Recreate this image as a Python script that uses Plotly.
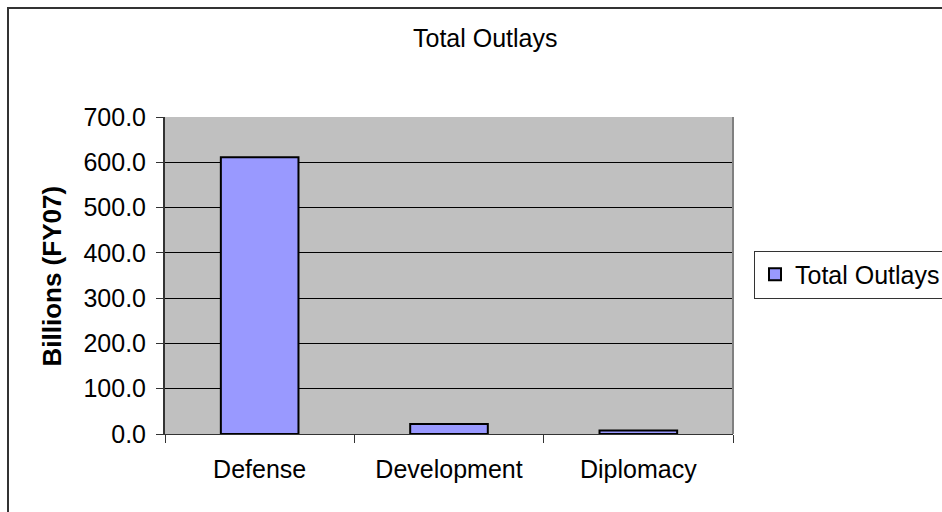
import plotly.graph_objects as go

categories = ["Defense", "Development", "Diplomacy"]
values = [611.0, 22.0, 8.0]
series_name = "Total Outlays"
chart_title = "Total Outlays"
y_title = "Billions (FY07)"
y_ticks = [0, 100, 200, 300, 400, 500, 600, 700]

W, H = 942, 512
L, R, T, B = 165, 733, 117, 434
pw, ph = R - L, B - T

def px_x(x):
    return (x - L) / pw

def px_y(y):
    return (B - y) / ph

font = "Liberation Sans, Arial, sans-serif"
FS = 25

fig = go.Figure()
fig.add_trace(go.Bar(
    x=categories, y=values, name=series_name,
    marker=dict(color="#9999FF", line=dict(color="#000000", width=2)),
    showlegend=True,
))

fig.update_layout(
    width=W, height=H,
    margin=dict(l=L, r=W - R, t=T, b=H - B, autoexpand=False),
    paper_bgcolor="white",
    plot_bgcolor="#C0C0C0",
    font=dict(family=font, size=FS, color="black"),
    bargap=0.59,
    showlegend=True,
    legend=dict(
        x=px_x(754), y=px_y(274.5), xanchor="left", yanchor="middle",
        bordercolor="#333333", borderwidth=1, bgcolor="white",
        font=dict(size=FS, family=font),
    ),
    xaxis=dict(
        type="category", showline=True, linecolor="#333333", linewidth=1,
        ticks="outside", tickson="boundaries", ticklen=8, tickcolor="#333333",
        showgrid=False, tickfont=dict(size=FS), ticklabelstandoff=13,
        range=[-0.5, 2.5],
    ),
    yaxis=dict(
        range=[0, 700], tickvals=y_ticks, tickformat=".1f",
        showline=True, linecolor="#333333", linewidth=2,
        ticks="outside", ticklen=7, tickcolor="#333333",
        showgrid=True, gridcolor="#000000", gridwidth=1,
        zeroline=False, tickfont=dict(size=FS), ticklabelstandoff=5,
    ),
    annotations=[
        dict(text=chart_title, x=px_x(485), y=px_y(38), xref="paper", yref="paper",
             showarrow=False, font=dict(size=FS), xanchor="center", yanchor="middle"),
        dict(text="<b>" + y_title + "</b>", x=px_x(51), y=px_y(276.5), xref="paper", yref="paper",
             showarrow=False, textangle=-90, font=dict(size=26), xanchor="center", yanchor="middle"),
    ],
    shapes=[
        dict(type="rect", xref="paper", yref="paper",
             x0=px_x(8), x1=px_x(990), y0=px_y(560), y1=px_y(8),
             line=dict(color="#333333", width=2), layer="below"),
        dict(type="line", xref="paper", yref="paper", x0=1, x1=1, y0=0, y1=1,
             line=dict(color="#808080", width=2)),
    ],
)

fig.write_html("out.html", config={"displayModeBar": False},
               post_script="document.body.style.margin='0';")
